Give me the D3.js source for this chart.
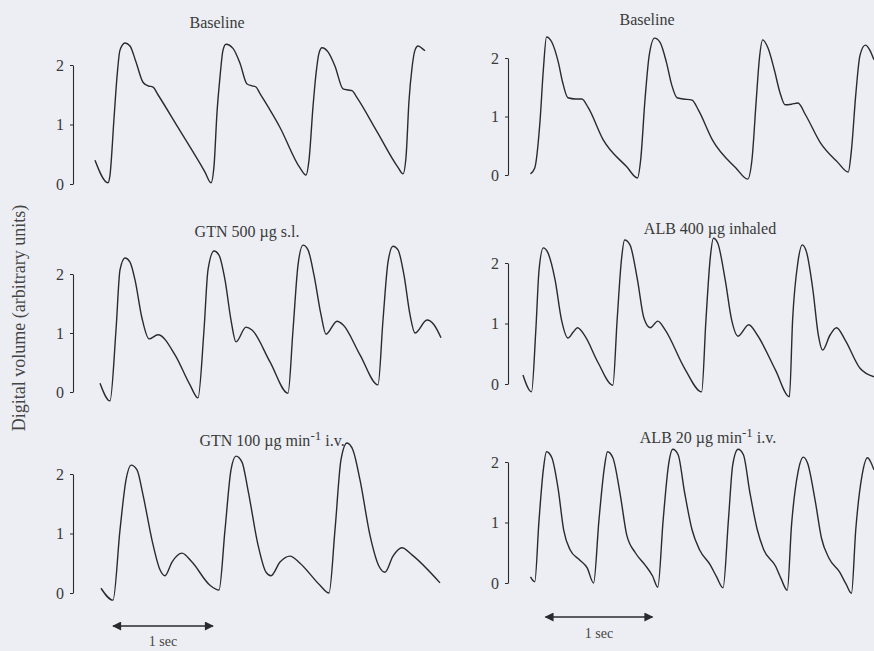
<!DOCTYPE html>
<html>
<head>
<meta charset="utf-8">
<script src="https://cdn.jsdelivr.net/npm/d3@7"></script>
<style>
  body { margin: 0; background: #eceef3; }
  svg { display: block; font-family: "Liberation Serif", "DejaVu Serif", serif; }
</style>
</head>
<body>
<div id="chart"></div>
<script>
// time in seconds, digital volume in arbitrary units
const baselineA = [
  [0.22,0.40],[0.35,0.02],[0.37,0.15],[0.41,1.10],[0.44,1.80],[0.47,2.25],[0.52,2.37],[0.57,2.32],[0.63,2.05],[0.70,1.71],[0.75,1.65],[0.80,1.63],[0.85,1.50],[1.05,0.95],[1.32,0.20],[1.38,0.02],
  [1.41,0.30],[1.44,1.20],[1.47,1.80],[1.50,2.25],[1.53,2.35],[1.60,2.28],[1.67,2.03],[1.74,1.68],[1.79,1.65],[1.83,1.63],[1.87,1.52],[2.07,0.95],[2.27,0.27],[2.33,0.15],
  [2.36,0.40],[2.40,1.30],[2.43,1.85],[2.46,2.20],[2.49,2.29],[2.55,2.22],[2.62,1.98],[2.70,1.60],[2.75,1.58],[2.79,1.57],[2.84,1.45],[3.04,0.88],[3.25,0.28],[3.30,0.17],
  [3.33,0.45],[3.36,1.40],[3.39,1.95],[3.42,2.25],[3.45,2.32],[3.49,2.28],[3.52,2.24]
];
const gtnSl = [
  [0.27,0.15],[0.37,-0.15],[0.43,1.05],[0.47,2.07],[0.52,2.27],[0.57,2.20],[0.62,1.90],[0.69,1.25],[0.76,0.90],[0.85,0.97],[1.02,0.63],[1.17,0.12],[1.25,-0.10],
  [1.31,1.05],[1.35,2.07],[1.41,2.39],[1.46,2.32],[1.52,1.90],[1.58,1.22],[1.63,0.85],[1.73,1.10],[1.79,1.05],[1.97,0.51],[2.15,-0.02],
  [2.20,1.05],[2.25,2.15],[2.30,2.49],[2.35,2.41],[2.41,1.98],[2.48,1.31],[2.53,0.98],[2.64,1.20],[2.70,1.14],[2.87,0.63],[3.05,0.12],
  [3.10,1.22],[3.15,2.20],[3.20,2.47],[3.25,2.41],[3.31,1.98],[3.37,1.31],[3.42,1.00],[3.54,1.22],[3.61,1.14],[3.68,0.92]
];
const gtnIv = [
  [0.28,0.08],[0.40,-0.12],[0.47,1.06],[0.53,1.90],[0.58,2.15],[0.64,2.07],[0.70,1.65],[0.79,0.89],[0.87,0.39],[0.92,0.29],[0.99,0.52],[1.09,0.67],[1.19,0.52],[1.37,0.13],[1.46,0.05],
  [1.52,1.06],[1.58,2.07],[1.63,2.30],[1.69,2.20],[1.75,1.73],[1.85,0.81],[1.93,0.35],[1.98,0.29],[2.07,0.52],[2.17,0.62],[2.27,0.50],[2.47,0.13],[2.56,0.00],
  [2.62,1.06],[2.68,2.24],[2.74,2.52],[2.80,2.40],[2.87,1.90],[2.97,0.97],[3.06,0.45],[3.12,0.35],[3.20,0.62],[3.29,0.76],[3.39,0.64],[3.67,0.17]
];
const baselineB = [
  [0.21,0.02],[0.25,0.12],[0.30,0.94],[0.33,1.79],[0.36,2.36],[0.41,2.27],[0.47,1.93],[0.51,1.59],[0.56,1.32],[0.63,1.30],[0.69,1.30],[0.75,1.15],[0.89,0.60],[1.11,0.14],[1.21,-0.05],
  [1.24,0.26],[1.28,1.28],[1.32,2.05],[1.37,2.34],[1.42,2.27],[1.48,1.93],[1.53,1.54],[1.58,1.32],[1.64,1.30],[1.72,1.28],[1.78,1.11],[1.91,0.60],[2.13,0.12],[2.24,-0.07],
  [2.28,0.26],[2.32,1.28],[2.35,2.00],[2.38,2.31],[2.43,2.17],[2.49,1.79],[2.54,1.42],[2.59,1.20],[2.65,1.21],[2.71,1.23],[2.78,1.03],[2.92,0.55],[3.08,0.22],[3.18,0.05],
  [3.21,0.43],[3.25,1.37],[3.29,2.05],[3.34,2.22],[3.38,2.14],[3.42,1.97]
];
const albInh = [
  [0.14,0.15],[0.22,-0.13],[0.26,0.89],[0.29,1.88],[0.33,2.25],[0.37,2.18],[0.44,1.72],[0.50,1.06],[0.56,0.76],[0.61,0.86],[0.65,0.93],[0.72,0.79],[0.84,0.36],[0.98,-0.02],
  [1.02,1.06],[1.06,2.05],[1.09,2.38],[1.14,2.30],[1.21,1.72],[1.27,1.09],[1.33,0.93],[1.40,1.04],[1.47,0.89],[1.65,0.26],[1.81,-0.13],
  [1.85,1.06],[1.89,2.08],[1.92,2.41],[1.96,2.33],[2.03,1.72],[2.09,1.06],[2.15,0.79],[2.25,0.98],[2.33,0.81],[2.50,0.23],[2.63,-0.21],
  [2.66,1.06],[2.71,2.02],[2.75,2.30],[2.79,2.18],[2.85,1.55],[2.90,0.81],[2.94,0.56],[3.01,0.81],[3.07,0.93],[3.15,0.73],[3.29,0.26],[3.42,0.12]
];
const albIv = [
  [0.21,0.10],[0.25,0.02],[0.29,1.04],[0.33,1.87],[0.36,2.17],[0.41,2.07],[0.47,1.54],[0.52,0.88],[0.58,0.55],[0.67,0.38],[0.74,0.25],[0.80,0.00],
  [0.85,1.04],[0.90,1.90],[0.93,2.17],[0.98,2.07],[1.05,1.45],[1.11,0.79],[1.19,0.50],[1.28,0.30],[1.35,0.12],[1.40,-0.07],
  [1.45,1.04],[1.50,1.95],[1.54,2.21],[1.59,2.12],[1.65,1.50],[1.72,0.88],[1.79,0.55],[1.89,0.30],[1.95,0.10],[2.01,-0.08],
  [2.06,1.04],[2.10,1.95],[2.15,2.21],[2.20,2.12],[2.26,1.50],[2.33,0.88],[2.39,0.55],[2.50,0.28],[2.55,0.08],[2.61,-0.12],
  [2.65,0.96],[2.71,1.83],[2.76,2.08],[2.80,1.98],[2.87,1.37],[2.93,0.74],[3.00,0.41],[3.10,0.18],[3.16,-0.02],[3.21,-0.17],
  [3.25,0.88],[3.31,1.79],[3.36,2.07],[3.39,2.00],[3.42,1.87]
];

const yTicks = [0, 1, 2];
const yLabel = "Digital volume (arbitrary units)";
const secLabel = "1 sec";

// title parts: [main text, superscript, tail]
const panels = [
  { data: baselineA, title: ["Baseline"], col: 0, row: 0 },
  { data: gtnSl, title: ["GTN 500 \u00b5g s.l."], col: 0, row: 1 },
  { data: gtnIv, title: ["GTN 100 \u00b5g min", "-1", " i.v."], col: 0, row: 2 },
  { data: baselineB, title: ["Baseline"], col: 1, row: 0 },
  { data: albInh, title: ["ALB 400 \u00b5g inhaled"], col: 1, row: 1 },
  { data: albIv, title: ["ALB 20 \u00b5g min", "-1", " i.v."], col: 1, row: 2 }
];

// layout (pixels)
const W = 874, H = 651;
const cols = [
  { axisX: 73, pxPerSec: 100, titleX: [217, 247, 272], arrowT: 0.40, arrowY: 626, secY: 646 },
  { axisX: 508, pxPerSec: 107, titleX: [647, 710, 708], arrowT: 0.35, arrowY: 617, secY: 638 }
];
const rows = [
  [{ y0: 184, y2: 65, titleY: 28 }, { y0: 175, y2: 58, titleY: 25 }],
  [{ y0: 392, y2: 274, titleY: 237 }, { y0: 384, y2: 263, titleY: 234 }],
  [{ y0: 593, y2: 474, titleY: 446 }, { y0: 583, y2: 462, titleY: 443 }]
];

const ink = "#2a2a2e";

const svg = d3.select("#chart")
  .append("svg")
  .attr("width", W)
  .attr("height", H);

svg.append("rect").attr("width", W).attr("height", H).attr("fill", "#eceef3");

const defs = svg.append("defs");
defs.append("marker")
  .attr("id", "head")
  .attr("viewBox", "0 0 10 10")
  .attr("refX", 9).attr("refY", 5)
  .attr("markerWidth", 13).attr("markerHeight", 9)
  .attr("markerUnits", "userSpaceOnUse")
  .attr("orient", "auto-start-reverse")
  .append("path")
  .attr("d", "M0,0 L10,5 L0,10 Z")
  .attr("fill", ink);

panels.forEach(p => {
  const c = cols[p.col];
  const r = rows[p.row][p.col];
  const x = d3.scaleLinear()
    .domain([0, 1])
    .range([c.axisX, c.axisX + c.pxPerSec]);
  const y = d3.scaleLinear()
    .domain([0, 2])
    .range([r.y0, r.y2]);

  const g = svg.append("g");

  const axis = d3.axisLeft(y)
    .tickValues(yTicks)
    .tickSize(3)
    .tickPadding(6)
    .tickSizeOuter(0)
    .tickFormat(d3.format("d"));
  const ag = g.append("g")
    .attr("transform", `translate(${c.axisX},0)`)
    .call(axis);
  ag.select(".domain").attr("stroke", ink).attr("stroke-width", 1.1);
  ag.selectAll(".tick line").attr("stroke", ink);
  ag.selectAll(".tick text")
    .attr("fill", "#3a3a3a")
    .style("font-family", "'Liberation Serif', serif")
    .style("font-size", "16px");

  g.append("path")
    .datum(p.data)
    .attr("fill", "none")
    .attr("stroke", ink)
    .attr("stroke-width", 1.4)
    .attr("stroke-linejoin", "round")
    .attr("d", d3.line()
      .x(d => x(d[0]))
      .y(d => y(d[1]))
      .curve(d3.curveMonotoneX));

  const t = g.append("text")
    .attr("x", c.titleX[p.row])
    .attr("y", r.titleY)
    .attr("text-anchor", "middle")
    .attr("fill", "#3a3a3a")
    .style("font-size", "16px")
    .text(p.title[0]);
  if (p.title.length > 1) {
    t.append("tspan").attr("dy", -6).style("font-size", "13px").text(p.title[1]);
    t.append("tspan").attr("dy", 6).text(p.title[2]);
  }

  if (p.row === 2) {
    g.append("line")
      .attr("x1", x(c.arrowT)).attr("x2", x(c.arrowT + 1))
      .attr("y1", c.arrowY).attr("y2", c.arrowY)
      .attr("stroke", ink)
      .attr("stroke-width", 1.3)
      .attr("marker-start", "url(#head)")
      .attr("marker-end", "url(#head)");
    g.append("text")
      .attr("x", x(c.arrowT + 0.5))
      .attr("y", c.secY)
      .attr("text-anchor", "middle")
      .attr("fill", "#444")
      .style("font-size", "14px")
      .text(secLabel);
  }
});

svg.append("text")
  .attr("transform", "translate(25,318) rotate(-90)")
  .attr("text-anchor", "middle")
  .attr("fill", "#444")
  .style("font-size", "18px")
  .text(yLabel);
</script>
</body>
</html>
